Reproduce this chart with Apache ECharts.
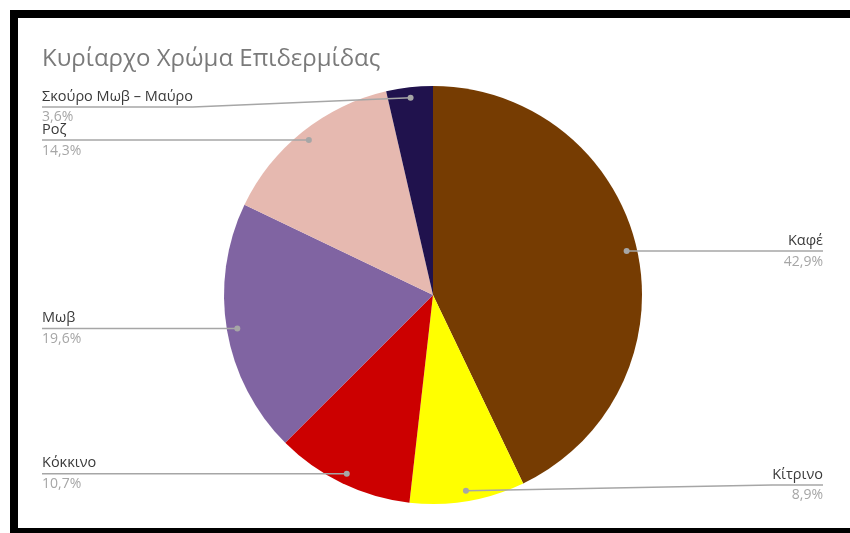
<!DOCTYPE html>
<html>
<head>
<meta charset="utf-8">
<script src="https://cdn.jsdelivr.net/npm/echarts@6/dist/echarts.min.js"></script>
<style>
  html, body { margin: 0; padding: 0; background: #ffffff; overflow: hidden; }
  #chart { width: 850px; height: 533px; }
</style>
</head>
<body>
<div id="chart"></div>
<script>
// Skin-tone categories and their shares (percent), clockwise from 12 o'clock
const categories = ['Καφέ', 'Κίτρινο', 'Κόκκινο', 'Μωβ', 'Ροζ', 'Σκούρο Μωβ – Μαύρο'];
const shares = [42.9, 8.9, 10.7, 19.6, 14.3, 3.6];
const sliceColors = ['#763C02', '#FFFF00', '#CC0000', '#8064A2', '#E6B9B0', '#20124D'];

const FONT = '"Open Sans", "Noto Sans", sans-serif';
const NAME_SIZE = 14.5, PCT_SIZE = 14;
const CX = 433, CY = 295, R = 209;
const ANCHOR_R = 0.95 * R;        // where each leader line starts inside its slice
const LEFT_EDGE = 42, RIGHT_EDGE = 823;
const LINE_MIN_Y = 107, LINE_MAX_Y = 485;
const LINE_COLOR = '#a6a6a6';

// mid-angle of every slice (radians, clockwise from top)
const total = shares.reduce((a, b) => a + b, 0);
const midAngles = [];
(function () {
  let acc = 0;
  shares.forEach(v => { midAngles.push((acc + v / 2) / total * Math.PI * 2); acc += v; });
})();
const anchors = midAngles.map(a => [CX + ANCHOR_R * Math.sin(a), CY - ANCHOR_R * Math.cos(a)]);

const fmtPct = v => v.toFixed(1).replace('.', ',') + '%';

// text widths for the underline part of each leader
const measureCtx = document.createElement('canvas').getContext('2d');
measureCtx.font = NAME_SIZE + 'px ' + FONT;
const nameWidths = categories.map(n => measureCtx.measureText(n).width);

// leader geometry: anchor inside slice -> inner end of name -> outer edge
const leaders = categories.map((name, i) => {
  const a = anchors[i];
  const right = Math.sin(midAngles[i]) > 0;
  const y = Math.min(LINE_MAX_Y, Math.max(LINE_MIN_Y, a[1]));
  const edgeX = right ? RIGHT_EDGE : LEFT_EDGE;
  const bendX = right ? RIGHT_EDGE - nameWidths[i] : LEFT_EDGE + nameWidths[i];
  return { right, y, edgeX, points: [[a[0], a[1]], [bendX, y], [edgeX, y]] };
});

const chart = echarts.init(document.getElementById('chart'), null, { renderer: 'canvas' });

const graphics = [
  // black frame along top, left and bottom
  {
    type: 'polyline', silent: true, z: 100,
    shape: { points: [[900, 14], [14, 14], [14, 532], [900, 532]] },
    style: { fill: null, stroke: '#000000', lineWidth: 8, lineJoin: 'miter' }
  }
];
leaders.forEach(l => {
  graphics.push({
    type: 'polyline', silent: true, z: 50,
    shape: { points: l.points },
    style: { stroke: LINE_COLOR, lineWidth: 1.5, fill: null }
  });
  graphics.push({
    type: 'circle', silent: true, z: 51,
    shape: { cx: l.points[0][0], cy: l.points[0][1], r: 3 },
    style: { fill: LINE_COLOR }
  });
});

const option = {
  animation: false,
  backgroundColor: '#ffffff',
  title: {
    text: 'Κυρίαρχο Χρώμα Επιδερμίδας',
    left: 37,
    top: 42,
    textStyle: { fontFamily: FONT, fontSize: 24, fontWeight: 'normal', color: '#7a7a7a' }
  },
  graphic: graphics,
  series: [{
    type: 'pie',
    center: [CX, CY],
    radius: R,
    startAngle: 90,
    clockwise: true,
    avoidLabelOverlap: false,
    itemStyle: { borderWidth: 0 },
    data: categories.map((name, i) => ({
      name: name,
      value: shares[i],
      itemStyle: { color: sliceColors[i] }
    })),
    label: {
      show: true,
      formatter: p => '{n|' + p.name + '}\n{p|' + fmtPct(p.value) + '}',
      rich: {
        n: { fontFamily: FONT, fontSize: NAME_SIZE, color: '#3a3a3a', lineHeight: 21 },
        p: { fontFamily: FONT, fontSize: PCT_SIZE, color: '#a6a6a6', lineHeight: 21 }
      }
    },
    labelLine: { show: false },
    labelLayout: function (params) {
      const l = leaders[params.dataIndex];
      return {
        x: l.edgeX,
        y: l.y,
        align: l.right ? 'right' : 'left',
        verticalAlign: 'middle'
      };
    }
  }]
};

chart.setOption(option);
</script>
</body>
</html>
